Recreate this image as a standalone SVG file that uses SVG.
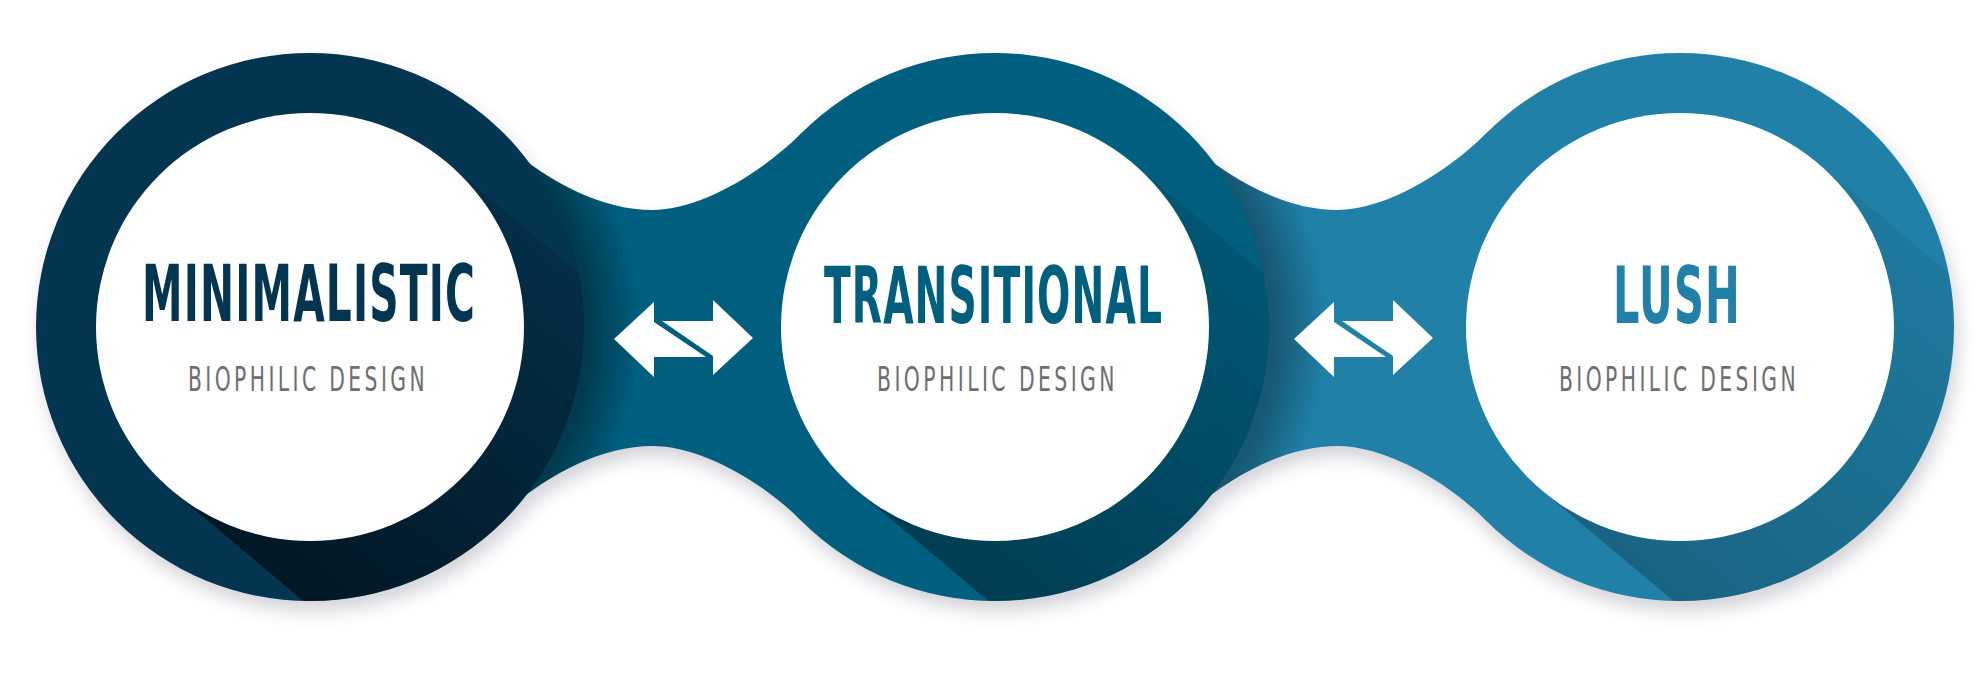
<svg xmlns="http://www.w3.org/2000/svg" width="1980" height="675" viewBox="0 0 1980 675">
<defs>
<style>
.title{font-family:"DejaVu Sans Condensed","DejaVu Sans",sans-serif;font-stretch:condensed;font-weight:bold;font-size:78px;letter-spacing:2px;}
.sub{font-family:"DejaVu Sans Condensed","DejaVu Sans",sans-serif;font-stretch:condensed;font-size:33px;letter-spacing:5px;fill:#6d6e71;}
.white{fill:#ffffff;}
.arrow{fill:#ffffff;}
</style>
<filter id="drop" x="-10%" y="-20%" width="120%" height="150%">
<feGaussianBlur stdDeviation="9"/>
</filter>
<path id="b1" d="M500,140 C545,180 600,210 652.5,210 C700,210 761.3,173.3 801.3,133.3 L820,327 L801.3,520.7 C761.3,480.7 700,446 652.5,446 C600,446 545,476 500,516 Z"/>
<path id="b2" d="M1185,140 C1230,180 1285,210 1337.5,210 C1385,210 1446.3,173.3 1486.3,133.3 L1505,327 L1486.3,520.7 C1446.3,480.7 1385,446 1337.5,446 C1285,446 1230,476 1185,516 Z"/>
<clipPath id="clipL"><circle cx="310" cy="327" r="274"/></clipPath>
<clipPath id="clipM"><circle cx="995" cy="327" r="274"/></clipPath>
<clipPath id="clipR"><circle cx="1680" cy="327" r="274"/></clipPath>
<clipPath id="clipB1"><use href="#b1"/></clipPath>
<clipPath id="clipB2"><use href="#b2"/></clipPath>
<radialGradient id="bandShadeL" gradientUnits="userSpaceOnUse" cx="316" cy="330" r="325">
<stop offset="0.84" stop-color="#000" stop-opacity="0.38"/>
<stop offset="1" stop-color="#000" stop-opacity="0"/>
</radialGradient>
<radialGradient id="bandShadeM" gradientUnits="userSpaceOnUse" cx="1001" cy="330" r="325">
<stop offset="0.84" stop-color="#000" stop-opacity="0.32"/>
<stop offset="1" stop-color="#000" stop-opacity="0"/>
</radialGradient>
<linearGradient id="longL" gradientUnits="userSpaceOnUse" x1="172" y1="491" x2="448" y2="163">
<stop offset="0" stop-color="#000" stop-opacity="0.55"/>
<stop offset="1" stop-color="#000" stop-opacity="0.12"/>
</linearGradient>
<linearGradient id="longM" gradientUnits="userSpaceOnUse" x1="857" y1="491" x2="1133" y2="163">
<stop offset="0" stop-color="#000" stop-opacity="0.35"/>
<stop offset="1" stop-color="#000" stop-opacity="0.1"/>
</linearGradient>
<linearGradient id="longR" gradientUnits="userSpaceOnUse" x1="1542" y1="491" x2="1818" y2="163">
<stop offset="0" stop-color="#000" stop-opacity="0.22"/>
<stop offset="1" stop-color="#000" stop-opacity="0.06"/>
</linearGradient>
</defs>
<rect width="1980" height="675" fill="#ffffff"/>

<g id="backdrop-shadow" filter="url(#drop)" opacity="0.22" transform="translate(4,10)" fill="#3a3550">
<circle cx="310" cy="327" r="274"/>
<circle cx="995" cy="327" r="274"/>
<circle cx="1680" cy="327" r="274"/>
<use href="#b1"/>
<use href="#b2"/>
</g>

<g id="bands">
<use href="#b1" fill="#005f7f"/>
<circle cx="316" cy="330" r="325" fill="url(#bandShadeL)" clip-path="url(#clipB1)"/>
<use href="#b2" fill="#2080a7"/>
<circle cx="1001" cy="330" r="325" fill="url(#bandShadeM)" clip-path="url(#clipB2)"/>
</g>

<g id="node-lush">
<circle cx="1680" cy="327" r="274" fill="#2080a7"/>
<polygon points="1817.6,163 2277,549 2002,877 1542.4,491" fill="url(#longR)" clip-path="url(#clipR)"/>
<circle class="white" cx="1680" cy="327" r="214"/>
<text class="title" x="1613" y="323" textLength="128" lengthAdjust="spacingAndGlyphs" fill="#2080a7">LUSH</text>
<text class="sub" x="1559" y="390.6" textLength="240" lengthAdjust="spacingAndGlyphs">BIOPHILIC DESIGN</text>
</g>

<g id="node-transitional">
<circle cx="995" cy="327" r="274" fill="#005f7f"/>
<polygon points="1132.6,163 1592,549 1317,877 857.4,491" fill="url(#longM)" clip-path="url(#clipM)"/>
<circle class="white" cx="995" cy="327" r="214"/>
<text class="title" x="824" y="323" textLength="339" lengthAdjust="spacingAndGlyphs" fill="#005f7f">TRANSITIONAL</text>
<text class="sub" x="877" y="390.6" textLength="241" lengthAdjust="spacingAndGlyphs">BIOPHILIC DESIGN</text>
</g>

<g id="node-minimalistic">
<circle cx="310" cy="327" r="274" fill="#033450"/>
<polygon points="447.6,163 907,549 632,877 172.4,491" fill="url(#longL)" clip-path="url(#clipL)"/>
<circle class="white" cx="310" cy="327" r="214"/>
<text class="title" x="142" y="320.7" textLength="334" lengthAdjust="spacingAndGlyphs" fill="#033450">MINIMALISTIC</text>
<text class="sub" x="188" y="390.6" textLength="240" lengthAdjust="spacingAndGlyphs">BIOPHILIC DESIGN</text>
</g>

<g id="connectors">
<g id="arrows1">
<polygon class="arrow" points="614,339 654,302 654,322 706,357 654,357 654,377"/>
<polygon class="arrow" points="753,338 713,375 713,356 662,321 713,321 713,300"/>
</g>
<g id="arrows2" transform="translate(680,0)">
<polygon class="arrow" points="614,339 654,302 654,322 706,357 654,357 654,377"/>
<polygon class="arrow" points="753,338 713,375 713,356 662,321 713,321 713,300"/>
</g>
</g>
</svg>
